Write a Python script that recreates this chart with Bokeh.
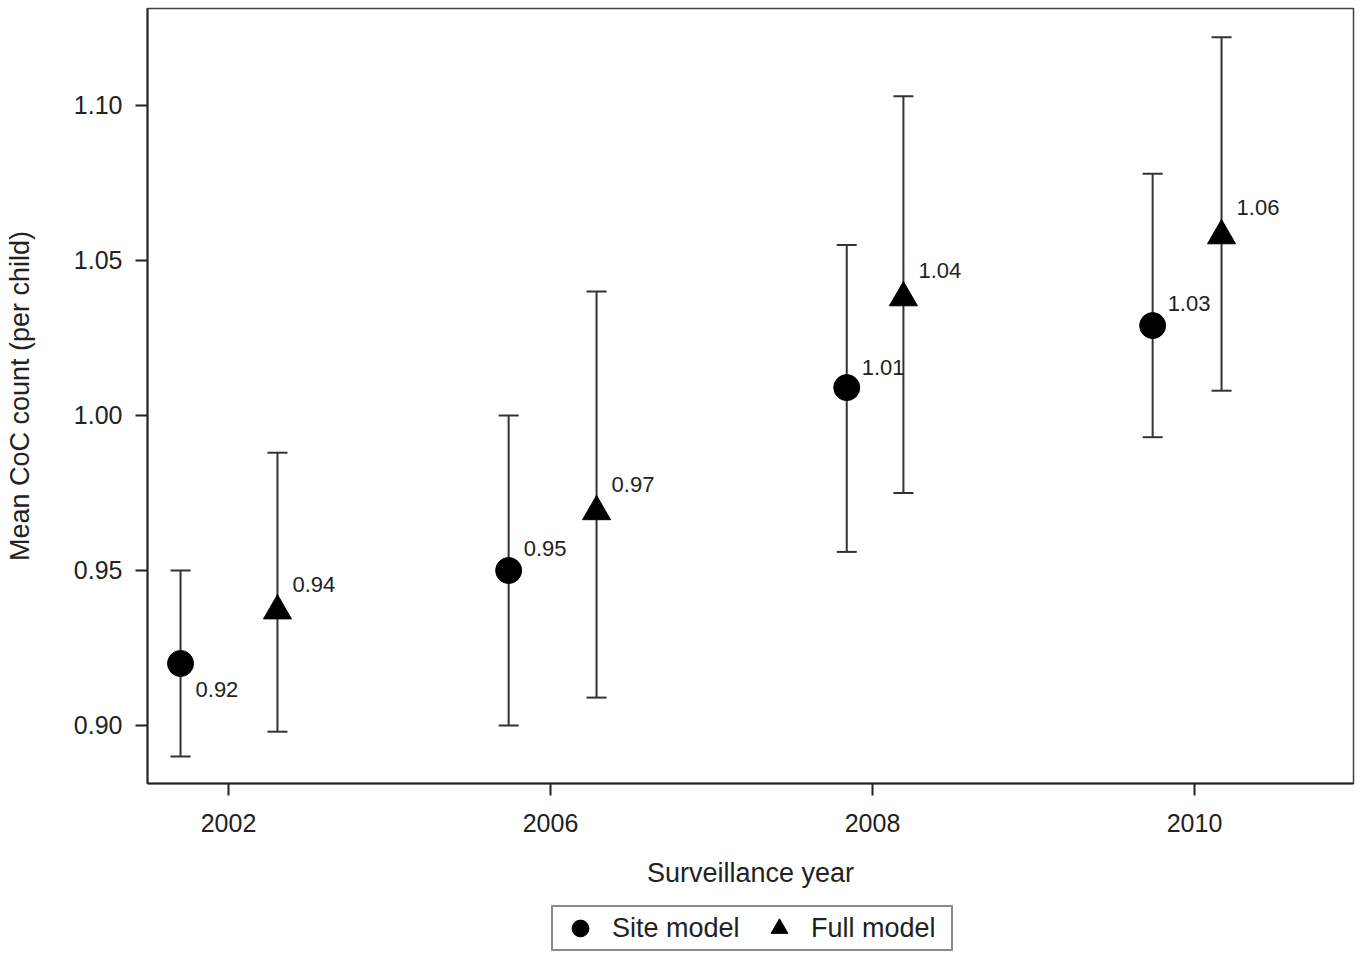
from bokeh.plotting import figure
from bokeh.layouts import column
from bokeh.models import (ColumnDataSource, Whisker, TeeHead, FixedTicker, Range1d,
                          Legend, LegendItem, PrintfTickFormatter)
from bokeh.embed import file_html
from bokeh.resources import INLINE
from bokeh.core.properties import value

# ---- data ----
years = ["2002", "2006", "2008", "2010"]

site_mean = [0.920, 0.950, 1.009, 1.029]
site_lower = [0.890, 0.900, 0.956, 0.993]
site_upper = [0.950, 1.000, 1.055, 1.078]
site_label = ["0.92", "0.95", "1.01", "1.03"]

full_mean = [0.937, 0.969, 1.038, 1.058]
full_lower = [0.898, 0.909, 0.975, 1.008]
full_upper = [0.988, 1.040, 1.103, 1.122]
full_label = ["0.94", "0.97", "1.04", "1.06"]

series_names = ["Site model", "Full model"]

# ---- layout helpers (horizontal dodge around each year, label offsets in px) ----
site_dodge = [-0.149, -0.130, -0.080, -0.130]
full_dodge = [0.152, 0.143, 0.096, 0.084]
site_label_dy = [26, -22, -20, -22]
full_label_dy = [-26, -27, -27, -28]

FONT = "Liberation Sans"
INK = "#222222"
W = 1355

src_site = ColumnDataSource(dict(
    x=[i + d for i, d in enumerate(site_dodge)], mean=site_mean,
    lower=site_lower, upper=site_upper, label=site_label, dy=site_label_dy))
src_full = ColumnDataSource(dict(
    x=[i + d for i, d in enumerate(full_dodge)], mean=full_mean,
    lower=full_lower, upper=full_upper, label=full_label, dy=full_label_dy))

p = figure(width=W, height=900,
           x_range=Range1d(-0.2516, 3.4938), y_range=Range1d(0.88129, 1.13129),
           output_backend="svg", toolbar_location=None,
           min_border_left=147, min_border_right=2, min_border_top=8,
           min_border_bottom=117)

p.background_fill_color = "white"
p.border_fill_color = "white"
p.outline_line_color = "#444444"
p.outline_line_width = 1.5
p.xgrid.visible = False
p.ygrid.visible = False

for src in (src_site, src_full):
    w = Whisker(source=src, base="x", lower="lower", upper="upper", dimension="height",
                line_color="#333333", line_width=2, level="underlay",
                upper_head=TeeHead(size=20, line_color="#333333", line_width=2),
                lower_head=TeeHead(size=20, line_color="#333333", line_width=2))
    p.add_layout(w)

p.scatter("x", "mean", source=src_site, marker="circle", size=26,
          fill_color="black", line_color="black")
p.scatter("x", "mean", source=src_full, marker="triangle", size=28,
          fill_color="black", line_color="black")

for src in (src_site, src_full):
    p.text(x="x", y="mean", text="label", source=src, x_offset=15, y_offset="dy",
           text_align="left", text_baseline="middle", text_font=value(FONT),
           text_font_size="22px", text_color=INK)

# axes
p.xaxis.ticker = FixedTicker(ticks=[0, 1, 2, 3])
p.xaxis.major_label_overrides = {i: y for i, y in enumerate(years)}
p.yaxis.ticker = FixedTicker(ticks=[0.90, 0.95, 1.00, 1.05, 1.10])
p.yaxis.formatter = PrintfTickFormatter(format="%.2f")
p.xaxis.axis_label = "Surveillance year"
p.yaxis.axis_label = "Mean CoC count (per child)"

for ax in (p.xaxis, p.yaxis):
    ax.axis_line_color = INK
    ax.axis_line_width = 2
    ax.major_tick_line_color = INK
    ax.major_tick_line_width = 2
    ax.major_tick_out = 12
    ax.major_tick_in = 0
    ax.minor_tick_line_color = None
    ax.major_label_text_font = FONT
    ax.major_label_text_font_size = "25px"
    ax.major_label_text_color = INK
    ax.axis_label_text_font = FONT
    ax.axis_label_text_font_size = "27px"
    ax.axis_label_text_font_style = "normal"
    ax.axis_label_text_color = INK

p.xaxis.major_label_standoff = 18
p.xaxis.axis_label_standoff = 23
p.yaxis.major_label_standoff = 13
p.yaxis.axis_label_standoff = 36

# ---- legend strip under the chart (its proxy renderers plot the same data,
#      but the strip's ranges keep them out of view) ----
p2 = figure(width=W, height=52, x_range=Range1d(100, 101), y_range=Range1d(100, 101),
            x_axis_type=None, y_axis_type=None, output_backend="svg",
            toolbar_location=None, min_border=0)
p2.outline_line_color = None
p2.grid.visible = False
l_site = p2.scatter("x", "mean", source=src_site, marker="circle", size=26,
                    fill_color="black", line_color="black")
l_full = p2.scatter("x", "mean", source=src_full, marker="triangle", size=28,
                    fill_color="black", line_color="black")

legend = Legend(items=[LegendItem(label=series_names[0], renderers=[l_site]),
                       LegendItem(label=series_names[1], renderers=[l_full])],
                orientation="horizontal", location=(404, 1),
                glyph_width=54, glyph_height=42, padding=0, spacing=0,
                label_standoff=5, label_width=140, label_text_font=FONT,
                label_text_font_size="27px",
                label_text_color=INK, label_text_baseline="middle",
                border_line_color="#111111", border_line_width=2, margin=0,
                background_fill_alpha=1.0)
p2.add_layout(legend, "center")

layout = column(p, p2, spacing=0)
open("out.html", "w").write(file_html(layout, INLINE))
